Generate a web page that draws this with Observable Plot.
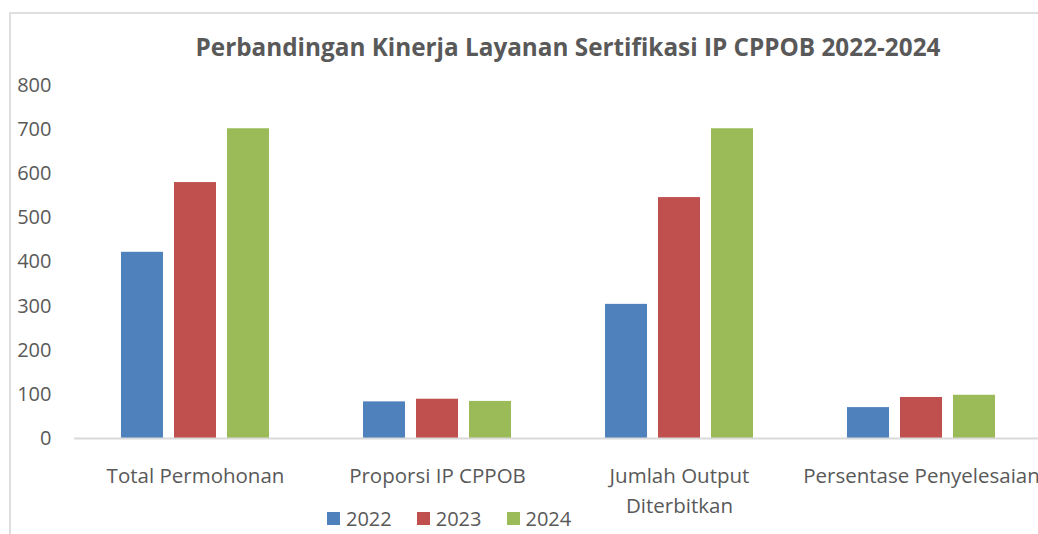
<!DOCTYPE html>
<html>
<head>
<meta charset="utf-8">
<script src="https://cdn.jsdelivr.net/npm/d3@7"></script>
<script src="https://cdn.jsdelivr.net/npm/@observablehq/plot@0.6"></script>
<style>
  html, body { margin: 0; padding: 0; background: #fff; overflow: hidden; }
  #wrap { position: relative; width: 1038px; height: 534px; overflow: hidden; font-family: "Open Sans", sans-serif; color: #595959; }
  #frame { position: absolute; left: 9px; top: 12px; width: 1200px; height: 700px; border-left: 2px solid #dedede; border-top: 2px solid #dedede; }
  #title { position: absolute; left: 0; top: 30px; width: 1136px; text-align: center; font-weight: 700; font-size: 24.3px; white-space: nowrap; }
  #chart { position: absolute; left: 0; top: 60px; width: 1046px; }
  #chart svg { max-width: none !important; }
  #legend { position: absolute; left: 327px; top: 505px; display: flex; align-items: center; font-size: 20px; white-space: nowrap; }
  #legend .item { display: flex; align-items: center; margin-right: 25px; }
  #legend .sw { width: 13px; height: 13px; margin-right: 6px; }
</style>
</head>
<body>
<div id="wrap">
  <div id="frame"></div>
  <div id="title"></div>
  <div id="chart"></div>
  <div id="legend"></div>
</div>
<script>
const titleText = "Perbandingan Kinerja Layanan Sertifikasi IP CPPOB 2022-2024";
const categories = ["Total Permohonan", "Proporsi IP CPPOB", "Jumlah Output Diterbitkan", "Persentase Penyelesaian"];
const categoryLabels = ["Total Permohonan", "Proporsi IP CPPOB", "Jumlah Output\nDiterbitkan", "Persentase Penyelesaian"];
const years = ["2022", "2023", "2024"];
const values2022 = [422, 83, 304, 70];
const values2023 = [580, 89, 546, 93];
const values2024 = [702, 84, 702, 98];
const colors = ["#4f81bd", "#c0504d", "#9bbb59"];
const yTicks = [0, 100, 200, 300, 400, 500, 600, 700, 800];

const series = [values2022, values2023, values2024];
const rows = [];
categories.forEach((c, i) => {
  years.forEach((yr, j) => rows.push({category: c, year: yr, value: series[j][i]}));
});
const labelOf = new Map(categories.map((c, i) => [c, categoryLabels[i]]));

document.getElementById("title").textContent = titleText;

const chart = Plot.plot({
  width: 1046,
  height: 450,
  marginLeft: 73,
  marginRight: 4,
  marginTop: 25,
  marginBottom: 72,
  style: {fontFamily: "'Open Sans', sans-serif", fontSize: "20px", color: "#595959", background: "transparent", overflow: "visible", maxWidth: "none"},
  fx: {domain: categories, padding: 0, axis: null},
  x: {domain: years, paddingInner: 11 / 54, paddingOuter: 0.8426, axis: null},
  y: {domain: [0, 800], axis: null},
  color: {domain: years, range: colors},
  marks: [
    Plot.barY(rows, {fx: "category", x: "year", y: "value", fill: "year"}),
    Plot.ruleY([0], {stroke: "#d9d9d9", strokeWidth: 2}),
    Plot.axisY({ticks: yTicks, tickSize: 0, tickPadding: 23, label: null, fill: "#595959", fontSize: 20}),
    Plot.axisFx({anchor: "bottom", tickSize: 0, tickPadding: 23, label: null, fill: "#595959", fontSize: 20.5, lineHeight: 1.46, tickFormat: d => labelOf.get(d)})
  ]
});
document.getElementById("chart").appendChild(chart);

const legend = document.getElementById("legend");
years.forEach((yr, j) => {
  const item = document.createElement("div");
  item.className = "item";
  const sw = document.createElement("span");
  sw.className = "sw";
  sw.style.background = colors[j];
  const t = document.createElement("span");
  t.textContent = yr;
  item.appendChild(sw);
  item.appendChild(t);
  legend.appendChild(item);
});
</script>
</body>
</html>
